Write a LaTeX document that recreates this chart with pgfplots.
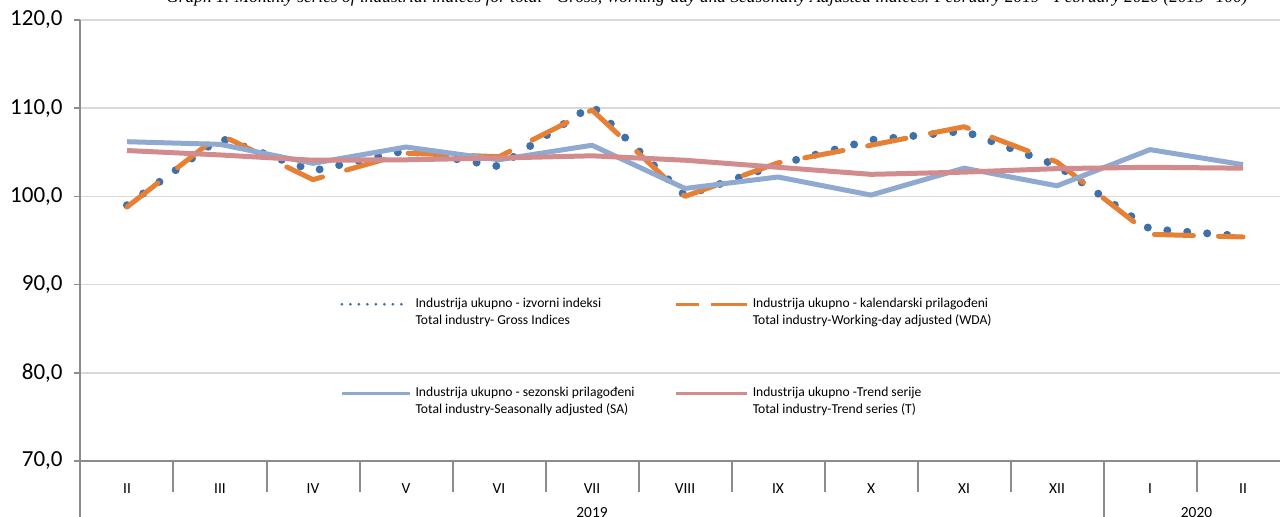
\documentclass[border=0pt]{standalone}
\usepackage{fontspec}
\setmainfont{Carlito}
\newfontfamily\titlefont{Liberation Serif}
\usepackage{pgfplots}
\pgfplotsset{compat=1.18}
\definecolor{grossc}{RGB}{64,112,170}
\definecolor{wdac}{RGB}{229,128,52}
\definecolor{sac}{RGB}{143,169,208}
\definecolor{trendc}{RGB}{210,140,142}
\definecolor{gridc}{RGB}{217,217,217}
\definecolor{axc}{RGB}{140,140,140}
\pgfplotstableread{
x gross wda sa trend
0  99.0  98.8 106.2  105.2
1  106.6 107.0 105.9 104.7
2  102.9 101.9 103.75 104.1
3  105.2 104.9 105.6 104.15
4  103.4 104.5 104.15 104.35
5  110.3 109.8 105.8 104.6
6  100.1 100.0 100.9 104.1
7  103.6 103.8 102.2 103.3
8  106.4 105.8 100.15 102.5
9  107.4 107.9 103.2 102.75
10 103.5 103.9 101.2 103.15
11 96.3  95.7  105.3 103.3
12 95.5  95.4  103.6 103.2
}\datatable
\begin{document}
\begin{tikzpicture}
\path[use as bounding box] (0,0) rectangle (640pt,258.5pt);
\clip (0,0) rectangle (640pt,258.5pt);
\node[anchor=base, font=\titlefont\itshape\fontsize{8.7pt}{10pt}\selectfont] at (353.5pt,257.3pt) {Graph 1. Monthly series of industrial indices for total - Gross, Working-day and Seasonally Adjusted indices. February 2019 - February 2020 (2015=100)};
\begin{axis}[
  at={(40.25pt,28pt)}, anchor=south west,
  scale only axis, width=604.5pt, height=220.5pt,
  xmin=-0.5, xmax=12.5, ymin=70, ymax=120,
  clip=false,
  axis lines=left,
  axis line style={draw=axc, line width=1pt, -},
  ytick={70,80,...,120},
  ymajorgrids, grid style={gridc, line width=0.75pt},
  ytick style={draw=axc, line width=0.75pt},
  tick align=outside, major tick length=3.25pt,
  yticklabel style={font=\fontsize{11.5pt}{13pt}\selectfont, anchor=east, inner sep=0pt, xshift=-5.5pt,
    /pgf/number format/.cd, fixed, fixed zerofill, precision=1, use comma, assume math mode=true},
  xtick={0,...,12},
  xticklabels={II,III,IV,V,VI,VII,VIII,IX,X,XI,XII,I,II},
  xtick style={draw=none},
  xticklabel style={font=\fontsize{7.7pt}{9pt}\selectfont, anchor=base, yshift=-13pt},
  legend columns=2,
  legend style={at={(0.2146,0.3844)}, anchor=north west, draw=none, fill=none, inner sep=0pt,
    row sep=33.15pt, cells={anchor=base west, inner sep=0pt},
    font=\fontsize{6.8pt}{8.3pt}\selectfont,
    /tikz/every odd column/.style={column sep=0pt},
    /tikz/every even column/.style={column sep=5pt}},
]
\addplot[grossc, line width=4pt, line cap=round, line join=round, dash pattern=on 0pt off 10pt, forget plot] table[x=x, y=gross] {\datatable};
\addplot[wdac, line width=2.5pt, line cap=round, line join=round, dash pattern=on 19.5pt off 12.5pt, forget plot] table[x=x, y=wda] {\datatable};
\addplot[sac, line width=2.5pt, line join=round, forget plot] table[x=x, y=sa] {\datatable};
\addplot[trendc, line width=2.5pt, line join=round, forget plot] table[x=x, y=trend] {\datatable};

\addlegendimage{legend image code/.code={\draw[grossc, line width=1.5pt, line cap=round, dash pattern=on 0pt off 4.25pt] (0pt,1.6pt) -- (34pt,1.6pt);}}
\addlegendentry{\parbox[t]{122.5pt}{\strut Industrija ukupno - izvorni indeksi\\ \strut Total industry- Gross Indices}}
\addlegendimage{legend image code/.code={\draw[wdac, line width=1.5pt, dash pattern=on 11.5pt off 6pt on 19pt off 6pt] (0pt,1.6pt) -- (35.5pt,1.6pt);}}
\addlegendentry{\parbox[t]{140pt}{\strut Industrija ukupno - kalendarski prilagođeni\\ \strut Total industry-Working-day adjusted (WDA)}}
\addlegendimage{legend image code/.code={\draw[sac, line width=1.6pt] (0pt,1.6pt) -- (34pt,1.6pt);}}
\addlegendentry{\parbox[t]{122.5pt}{\strut Industrija ukupno - sezonski prilagođeni\\ \strut Total industry-Seasonally adjusted (SA)}}
\addlegendimage{legend image code/.code={\draw[trendc, line width=1.6pt] (0pt,1.6pt) -- (35.5pt,1.6pt);}}
\addlegendentry{\parbox[t]{140pt}{\strut Industrija ukupno -Trend serije\\ \strut Total industry-Trend series (T)}}

\pgfplotsinvokeforeach{0.5,1.5,2.5,3.5,4.5,5.5,6.5,7.5,8.5,9.5,11.5}{
  \draw[axc, line width=1pt] (axis cs:#1,70) -- ++(0pt,-15.5pt);
}
\draw[axc, line width=1pt] (axis cs:-0.5,70) -- ++(0pt,-40pt);
\draw[axc, line width=1pt] (axis cs:10.5,70) -- ++(0pt,-40pt);
\node[font=\fontsize{7.7pt}{9pt}\selectfont] at (axis cs:5,70) [yshift=-26pt] {2019};
\node[font=\fontsize{7.7pt}{9pt}\selectfont] at (axis cs:11.5,70) [yshift=-26pt] {2020};
\end{axis}
\end{tikzpicture}
\end{document}
